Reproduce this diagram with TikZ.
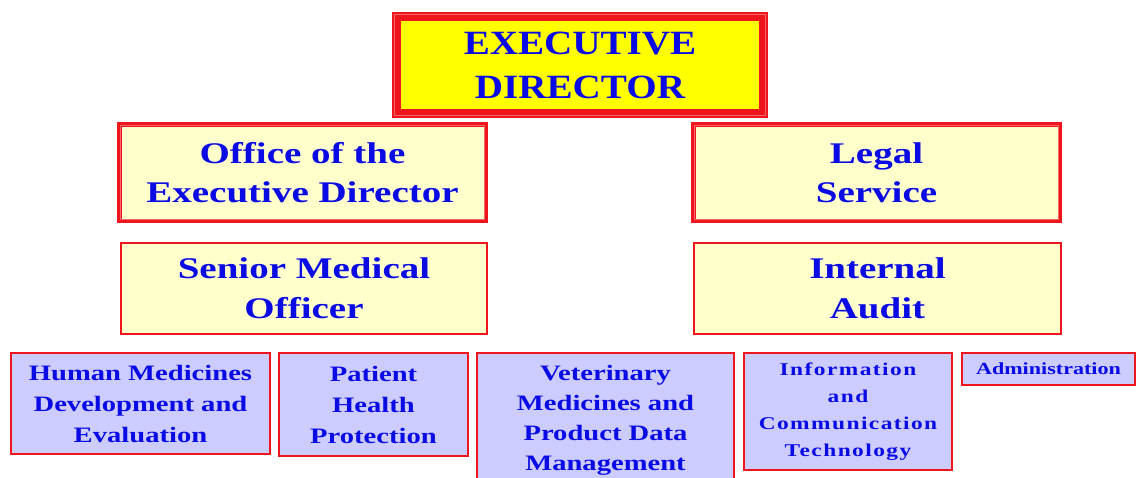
\documentclass[tikz,border=0pt]{standalone}
\usepackage{fontspec}
\setmainfont{Liberation Serif}
\newfontfamily\chartfont[FakeStretch=1.3]{Liberation Serif}
\newfontfamily\headfont[FakeStretch=1.15]{Liberation Serif}
\newfontfamily\spacedfont[FakeStretch=1.3,LetterSpace=8]{Liberation Serif}
\usetikzlibrary{positioning}
\definecolor{orgred}{RGB}{238,22,28}
\definecolor{orgblue}{RGB}{10,10,228}
\definecolor{headyellow}{RGB}{255,255,0}
\definecolor{paleyellow}{RGB}{255,255,204}
\definecolor{unitfill}{RGB}{204,204,255}
\tikzset{orgbox/.style={rectangle,draw=orgred,align=center,inner sep=2pt,text=orgblue},
  headbox/.style={orgbox,fill=headyellow,line width=9pt,font=\headfont\bfseries\fontsize{34}{44}\selectfont},
  officebox/.style={orgbox,fill=paleyellow,line width=4.5pt,font=\chartfont\bfseries\fontsize{30}{39}\selectfont},
  staffbox/.style={orgbox,fill=paleyellow,line width=2pt,font=\chartfont\bfseries\fontsize{30}{40}\selectfont},
  unitbox/.style={orgbox,fill=unitfill,line width=2pt,anchor=north west,font=\chartfont\bfseries\fontsize{22}{31}\selectfont},
  rimline/.style={draw=orgred!65!white,line width=0.7pt}}

\begin{document}
\begin{tikzpicture}[x=1pt,y=-1pt]
\useasboundingbox (0,0) rectangle (1138,477);
% top level
\node[headbox,minimum width=367pt,minimum height=97pt] (exec) at (580,65) {EXECUTIVE\\DIRECTOR};
\draw[rimline] ([xshift=2.5pt,yshift=-2.5pt]exec.north west) rectangle ([xshift=-2.5pt,yshift=2.5pt]exec.south east);
% offices and staff functions
\node[officebox,minimum width=366.5pt,minimum height=96.5pt] (office) at (302.5,172.5) {Office of the\\Executive Director};
\node[officebox,minimum width=366.5pt,minimum height=96.5pt] (legal) at (876.5,172.5) {Legal\\Service};
\draw[rimline] ([xshift=3.6pt,yshift=-3.6pt]office.north west) rectangle ([xshift=-3.6pt,yshift=3.6pt]office.south east);
\draw[rimline] ([xshift=3.6pt,yshift=-3.6pt]legal.north west) rectangle ([xshift=-3.6pt,yshift=3.6pt]legal.south east);
\node[staffbox,minimum width=366pt,minimum height=91pt] (senior) at (304,288.5) {Senior Medical\\Officer};
\node[staffbox,minimum width=367pt,minimum height=91pt] (audit) at (877.5,288.5) {Internal\\Audit};
% units
\node[unitbox,minimum width=259pt,minimum height=101pt] (human) at (10,352) {Human Medicines\\Development and\\Evaluation};
\node[unitbox,minimum width=189pt,minimum height=103pt,right=7pt of human.north east,anchor=north west] (patient) {Patient\\Health\\Protection};
\node[unitbox,minimum width=257pt,minimum height=134pt,right=7pt of patient.north east,anchor=north west,font=\chartfont\bfseries\fontsize{22}{30}\selectfont] (vet) {Veterinary\\Medicines and\\Product Data\\Management};
\node[unitbox,minimum width=208pt,minimum height=117pt,right=8pt of vet.north east,anchor=north west,font=\spacedfont\bfseries\fontsize{18}{27}\selectfont] (ict) {Information\\and\\Communication\\Technology};
\node[unitbox,minimum width=173pt,minimum height=32pt,right=8pt of ict.north east,anchor=north west,font=\chartfont\bfseries\fontsize{17}{20}\selectfont] (admin) {Administration};
\end{tikzpicture}
\end{document}
